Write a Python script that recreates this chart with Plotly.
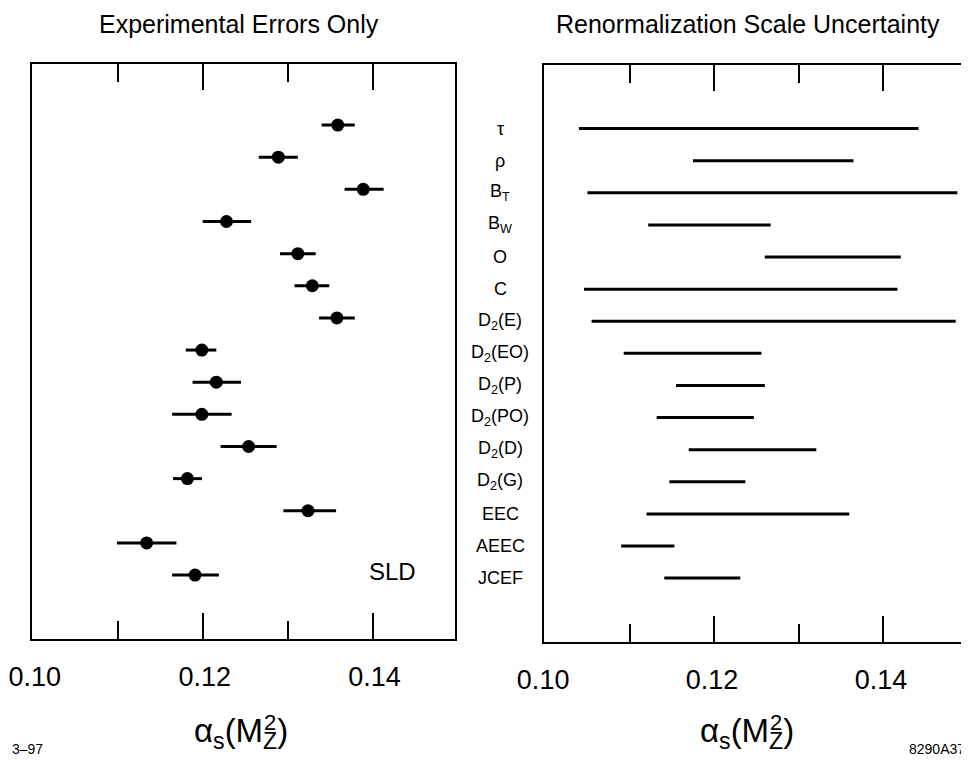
import plotly.graph_objects as go

# ---------------- data ----------------
# Left panel: SLD alpha_s with experimental errors (top to bottom)
exp_center = [0.1359, 0.1289, 0.1389, 0.1228, 0.1312, 0.1329, 0.1358, 0.1199,
              0.1216, 0.1199, 0.1254, 0.1182, 0.1324, 0.1134, 0.1191]
exp_lo = [0.1340, 0.1266, 0.1367, 0.1200, 0.1291, 0.1308, 0.1337, 0.1180,
          0.1188, 0.1164, 0.1221, 0.1165, 0.1295, 0.1099, 0.1164]
exp_hi = [0.1379, 0.1312, 0.1413, 0.1257, 0.1333, 0.1349, 0.1379, 0.1216,
          0.1245, 0.1234, 0.1287, 0.1199, 0.1357, 0.1169, 0.1219]

# Right panel: renormalization scale uncertainty ranges
observables = ["τ", "ρ", "B<sub>T</sub>", "B<sub>W</sub>", "O", "C",
               "D<sub>2</sub>(E)", "D<sub>2</sub>(EO)", "D<sub>2</sub>(P)",
               "D<sub>2</sub>(PO)", "D<sub>2</sub>(D)", "D<sub>2</sub>(G)",
               "EEC", "AEEC", "JCEF"]
scale_lo = [0.1040, 0.1175, 0.1050, 0.1122, 0.1260, 0.1046, 0.1055, 0.1093,
            0.1155, 0.1132, 0.1170, 0.1147, 0.1120, 0.1090, 0.1141]
scale_hi = [0.1442, 0.1365, 0.1488, 0.1267, 0.1421, 0.1417, 0.1486, 0.1256,
            0.1260, 0.1247, 0.1321, 0.1237, 0.1360, 0.1153, 0.1231]

x_ticks = [0.10, 0.12, 0.14]
x_tick_text = ["0.10", "0.12", "0.14"]
x_minor_ticks = [0.11, 0.13]

FONT = "Liberation Sans, Arial, Helvetica, sans-serif"

# page body has an 8px margin: figure drawn at (8, 8)
OFF = 8
W, H = 969 - OFF, 763 - OFF


def xp(px):
    return (px - OFF) / W


def yp(py):
    return 1 - (py - OFF) / H


rows = list(range(len(observables)))

fig = go.Figure()

# Left: points with asymmetric horizontal errors
fig.add_trace(go.Scatter(
    x=exp_center, y=rows, mode="markers",
    marker=dict(color="black", size=13, symbol="circle"),
    error_x=dict(type="data", symmetric=False,
                 array=[h - c for h, c in zip(exp_hi, exp_center)],
                 arrayminus=[c - l for l, c in zip(exp_lo, exp_center)],
                 color="black", thickness=3, width=0),
    xaxis="x", yaxis="y", showlegend=False, hoverinfo="skip"))

# Right: horizontal ranges
lx, ly = [], []
for i, (a, b) in enumerate(zip(scale_lo, scale_hi)):
    lx += [a, b, None]
    ly += [i, i, None]
fig.add_trace(go.Scatter(
    x=lx, y=ly, mode="lines", line=dict(color="black", width=3),
    xaxis="x2", yaxis="y2", showlegend=False, hoverinfo="skip"))

xcommon = dict(
    range=[0.0999, 0.1497], showline=True, linecolor="black", linewidth=2,
    mirror="allticks", ticks="inside", ticklen=26, tickwidth=1.5, tickcolor="black",
    tickvals=x_ticks, ticktext=x_tick_text,
    minor=dict(ticks="inside", ticklen=18, tickwidth=1.5, tickcolor="black",
               tickvals=x_minor_ticks),
    showgrid=False, zeroline=False, automargin=False,
    tickfont=dict(family=FONT, size=27, color="black"),
    ticklabelstandoff=13, ticklabeloverflow="allow",
)
ycommon = dict(showline=True, linecolor="black", linewidth=2, mirror=True,
               showticklabels=False, ticks="", showgrid=False, zeroline=False,
               automargin=False)

fig.update_layout(
    template="none",
    width=W, height=H,
    margin=dict(l=0, r=0, t=0, b=0, autoexpand=False),
    paper_bgcolor="white", plot_bgcolor="white",
    font=dict(family=FONT, color="black"),
    xaxis=dict(domain=[xp(32), xp(455)], anchor="y", ticklabelshift=2, **xcommon),
    yaxis=dict(domain=[yp(639), yp(64)], anchor="x",
               range=[15.99, -1.9], **ycommon),
    xaxis2=dict(domain=[xp(544.3), xp(965)], anchor="y2", ticklabelshift=-2, **xcommon),
    yaxis2=dict(domain=[yp(641.7), yp(65)], anchor="x2",
                range=[15.98, -1.98], **ycommon),
)

ann = []
# panel titles
ann.append(dict(text="Experimental Errors Only", x=xp(238.5), y=yp(24),
                xref="paper", yref="paper", showarrow=False,
                xanchor="center", yanchor="middle",
                font=dict(family=FONT, size=25)))
ann.append(dict(text="Renormalization Scale Uncertainty", x=xp(747.5), y=yp(24),
                xref="paper", yref="paper", showarrow=False,
                xanchor="center", yanchor="middle",
                font=dict(family=FONT, size=25)))
# observable labels between panels
for i, name in enumerate(observables):
    ann.append(dict(text=name, x=xp(500), y=i, xref="paper", yref="y2",
                    showarrow=False, xanchor="center", yanchor="middle",
                    font=dict(family=FONT, size=18)))
# SLD label
ann.append(dict(text="SLD", x=xp(392), y=yp(571), xref="paper", yref="paper",
                showarrow=False, xanchor="center", yanchor="middle",
                font=dict(family=FONT, size=24)))
# axis titles
for cx in (241, 747):
    ann.append(dict(text="α<sub>s</sub>(M<sub>Z</sub>)", x=xp(cx), y=yp(733),
                    xref="paper", yref="paper", showarrow=False,
                    xanchor="center", yanchor="middle",
                    font=dict(family=FONT, size=33)))
    ann.append(dict(text="2", x=xp(cx + 29), y=yp(722),
                    xref="paper", yref="paper", showarrow=False,
                    xanchor="center", yanchor="middle",
                    font=dict(family=FONT, size=22)))
# corner codes
ann.append(dict(text="3–97", x=xp(10), y=yp(749), xref="paper", yref="paper",
                showarrow=False, xanchor="left", yanchor="middle",
                font=dict(family=FONT, size=14)))
ann.append(dict(text="8290A37", x=xp(967), y=yp(749), xref="paper", yref="paper",
                showarrow=False, xanchor="right", yanchor="middle",
                font=dict(family=FONT, size=14)))
fig.update_layout(annotations=ann)

fig.write_html("out.html")
